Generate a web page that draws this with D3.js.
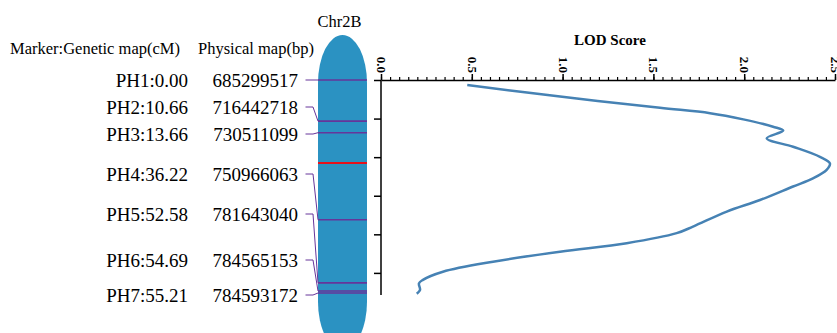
<!DOCTYPE html>
<html>
<head>
<meta charset="utf-8">
<script src="https://cdn.jsdelivr.net/npm/d3@7"></script>
<style>
  body { margin: 0; background: #fff; }
  svg { display: block; font-family: 'Liberation Serif', 'Times New Roman', serif; }
</style>
</head>
<body>
<svg id="chart" width="837" height="333"></svg>
<script>
// markers on Chr2B
const markers = ['PH1', 'PH2', 'PH3', 'PH4', 'PH5', 'PH6', 'PH7'];
const geneticMap = [0.0, 10.66, 13.66, 36.22, 52.58, 54.69, 55.21];
const physicalMap = ['685299517', '716442718', '730511099', '750966063', '781643040', '784565153', '784593172'];
const peakPos = 21.5; // LOD peak (red band)

// LOD profile along the chromosome (cM, score)
const lodPos = [1.3, 4.3, 7.2, 8.6, 10.2, 12.1, 13.1, 15.1, 17.3, 19.9, 21.6, 23.3, 25.5, 27.6, 31.1, 34.1, 38.0, 39.7, 42.3, 44.5, 47.1, 49.7, 51.8, 52.7, 54.4, 55.4];
const lodScore = [0.475, 0.986, 1.536, 1.812, 1.995, 2.159, 2.215, 2.124, 2.269, 2.417, 2.472, 2.454, 2.379, 2.269, 2.087, 1.904, 1.718, 1.628, 1.353, 0.986, 0.617, 0.341, 0.231, 0.209, 0.215, 0.197];

const majorTicks = [0, 0.5, 1.0, 1.5, 2.0, 2.5];
const cmTicks = [0, 10, 20, 30, 40, 50];

// label slots (text rows do not sit on the map positions)
const labelY = [80, 107, 134, 174, 214, 260, 295];

const svg = d3.select('#chart');

const x = d3.scaleLinear().domain([0, 2.5]).range([381, 835]);
const y = d3.scaleLinear().domain([0, 55.21]).range([80, 293]);

const chrLeft = 318;
const chrWidth = 49;
const lineColor = '#66359a';

// headers
svg.append('text')
  .attr('x', 10).attr('y', 54)
  .attr('font-size', '16.5px')
  .text('Marker:Genetic map(cM)');
svg.append('text')
  .attr('x', 198).attr('y', 54)
  .attr('font-size', '16.5px')
  .text('Physical map(bp)');
svg.append('text')
  .attr('x', chrLeft + chrWidth / 2 - 3).attr('y', 27)
  .attr('text-anchor', 'middle')
  .attr('font-size', '16.5px')
  .text('Chr2B');

// chromosome body
svg.append('rect')
  .attr('x', chrLeft).attr('y', 35)
  .attr('width', chrWidth).attr('height', 315)
  .attr('rx', chrWidth / 2).attr('ry', 48)
  .attr('fill', '#2b92c2');

// peak band
svg.append('line')
  .attr('x1', chrLeft).attr('x2', chrLeft + chrWidth)
  .attr('y1', y(peakPos)).attr('y2', y(peakPos))
  .attr('stroke', '#e8101a').attr('stroke-width', 2);

// marker labels and connectors
const rows = svg.append('g');
markers.forEach((m, i) => {
  const ly = labelY[i];
  rows.append('text')
    .attr('x', 188).attr('y', ly)
    .attr('dy', '0.35em')
    .attr('text-anchor', 'end')
    .attr('font-size', '19px')
    .text(m + ':' + geneticMap[i].toFixed(2));
  rows.append('text')
    .attr('x', 298).attr('y', ly)
    .attr('dy', '0.35em')
    .attr('text-anchor', 'end')
    .attr('font-size', '19px')
    .text(physicalMap[i]);

  const ty = y(geneticMap[i]);
  rows.append('path')
    .attr('d', d3.line()([[305.5, ly], [313, ly], [chrLeft, ty]]))
    .attr('fill', 'none')
    .attr('stroke', lineColor)
    .attr('stroke-width', 1);
  rows.append('line')
    .attr('x1', chrLeft).attr('x2', chrLeft + chrWidth)
    .attr('y1', ty).attr('y2', ty)
    .attr('stroke', lineColor)
    .attr('stroke-width', 1.6);
});

// top LOD axis
const minor = svg.append('g')
  .attr('transform', `translate(0,${y(0)})`)
  .call(d3.axisTop(x).tickValues(d3.range(0, 51).map(d => d * 0.05)).tickSize(3).tickSizeOuter(0).tickFormat(''));
minor.select('.domain').remove();

const topAxis = svg.append('g')
  .attr('transform', `translate(0,${y(0)})`)
  .call(d3.axisTop(x).tickValues(majorTicks).tickSize(6).tickSizeOuter(0).tickFormat(d3.format('.1f')));
topAxis.selectAll('line, path').attr('stroke', '#000').attr('stroke-width', 1.5);
minor.selectAll('line').attr('stroke', '#000').attr('stroke-width', 1.2);
topAxis.selectAll('text')
  .attr('font-family', "'Liberation Serif', serif")
  .attr('font-size', '13px')
  .attr('font-weight', 'bold')
  .attr('fill', '#000')
  .attr('text-anchor', 'end')
  .attr('transform', 'rotate(90)')
  .attr('x', -7)
  .attr('y', 0)
  .attr('dy', '0.35em');

svg.append('text')
  .attr('x', 610).attr('y', 45)
  .attr('text-anchor', 'middle')
  .attr('font-size', '15px')
  .attr('font-weight', 'bold')
  .text('LOD Score');

// left position axis
const leftAxis = svg.append('g')
  .attr('transform', `translate(${x(0)},0)`)
  .call(d3.axisLeft(y).tickValues(cmTicks).tickSize(7).tickSizeOuter(0).tickFormat(''));
leftAxis.select('.domain').attr('d', `M0,${y(0)}V${y(55.21) + 2}`);
leftAxis.selectAll('line, path').attr('stroke', '#000').attr('stroke-width', 1.5);

// LOD curve
const pts = lodPos.map((p, i) => [x(lodScore[i]), y(p)]);
svg.append('path')
  .attr('d', d3.line().curve(d3.curveCatmullRom.alpha(0.5))(pts))
  .attr('fill', 'none')
  .attr('stroke', '#4682b4')
  .attr('stroke-width', 2.5);
</script>
</body>
</html>
